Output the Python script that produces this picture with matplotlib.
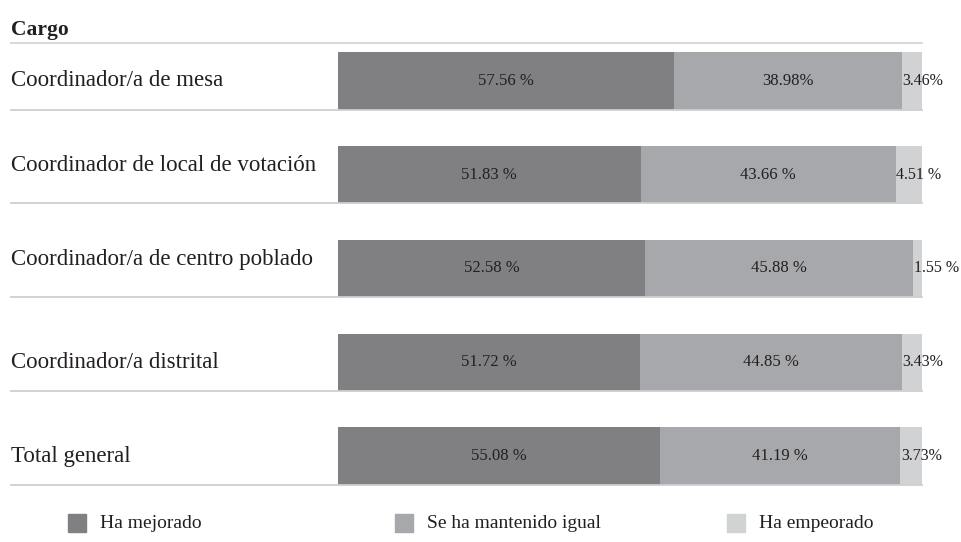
import matplotlib
matplotlib.use("Agg")
import matplotlib.pyplot as plt
from matplotlib.transforms import blended_transform_factory
from matplotlib.patches import Rectangle

# data
cargos = ['Coordinador/a de mesa', 'Coordinador de local de votación',
          'Coordinador/a de centro poblado', 'Coordinador/a distrital',
          'Total general']
mejorado = [57.56, 51.83, 52.58, 51.72, 55.08]
igual = [38.98, 43.66, 45.88, 44.85, 41.19]
empeorado = [3.46, 4.51, 1.55, 3.43, 3.73]
lbl_mejorado = ['57.56 %', '51.83 %', '52.58 %', '51.72 %', '55.08 %']
lbl_igual = ['38.98%', '43.66 %', '45.88 %', '44.85 %', '41.19 %']
lbl_empeorado = ['3.46%', '4.51 %', '1.55 %', '3.43%', '3.73%']
series = ['Ha mejorado', 'Se ha mantenido igual', 'Ha empeorado']

colors = ['#808083', '#a7a8ab', '#d1d2d4']
txt = '#231f20'
plt.rcParams['font.family'] = ['Liberation Serif', 'DejaVu Serif']

W, H = 961, 542
fig = plt.figure(figsize=(W / 100, H / 100), dpi=100)
ax = fig.add_axes([338 / W, 1 - 503 / H, (922 - 338) / W, 469 / H])
ax.set_xlim(0, 100)
ax.set_ylim(4.5, -0.5)
ax.axis('off')

y = list(range(len(cargos)))
h = 0.61
left2 = [a for a in mejorado]
left3 = [a + b for a, b in zip(mejorado, igual)]
ax.barh(y, mejorado, height=h, color=colors[0])
ax.barh(y, igual, left=left2, height=h, color=colors[1])
ax.barh(y, empeorado, left=left3, height=h, color=colors[2])

for i in y:
    ax.text(mejorado[i] / 2, i, lbl_mejorado[i], ha='center', va='center',
            fontsize=12, color=txt)
    ax.text(left2[i] + igual[i] / 2, i, lbl_igual[i], ha='center', va='center',
            fontsize=12, color=txt)
    ax.text(left3[i] + 0.1, i, lbl_empeorado[i], ha='left', va='center',
            fontsize=11.5, color=txt)

# row labels and separators
tr = blended_transform_factory(fig.transFigure, ax.transData)
nudge = [0, -0.1, -0.1, 0, 0]  # the two middle labels sit a bit high
for i in y:
    ax.text(11 / W, i + nudge[i], cargos[i], transform=tr, ha='left',
            va='center', fontsize=16.5, color=txt)
    ax.plot([11 / W, 922 / W], [i + h / 2, i + h / 2], transform=tr,
            color='#cfcfd1', lw=1.3, clip_on=False)
ax.plot([11 / W, 922 / W], [-0.405, -0.405], transform=tr,
        color='#d5d5d7', lw=1.3, clip_on=False)
fig.text(11 / W, 1 - 30 / H, 'Cargo', ha='left', va='center',
         fontsize=15.5, fontweight='bold', color=txt)

# legend
sq_x = [68, 395, 727]
for k in range(3):
    fig.patches.append(Rectangle((sq_x[k] / W, 1 - 532 / H), 18 / W, 18 / H,
                                 transform=fig.transFigure, color=colors[k]))
    fig.text((sq_x[k] + 32) / W, 1 - 523 / H, series[k], ha='left', va='center',
             fontsize=14, color=txt)

fig.savefig('out.png', dpi=100)
